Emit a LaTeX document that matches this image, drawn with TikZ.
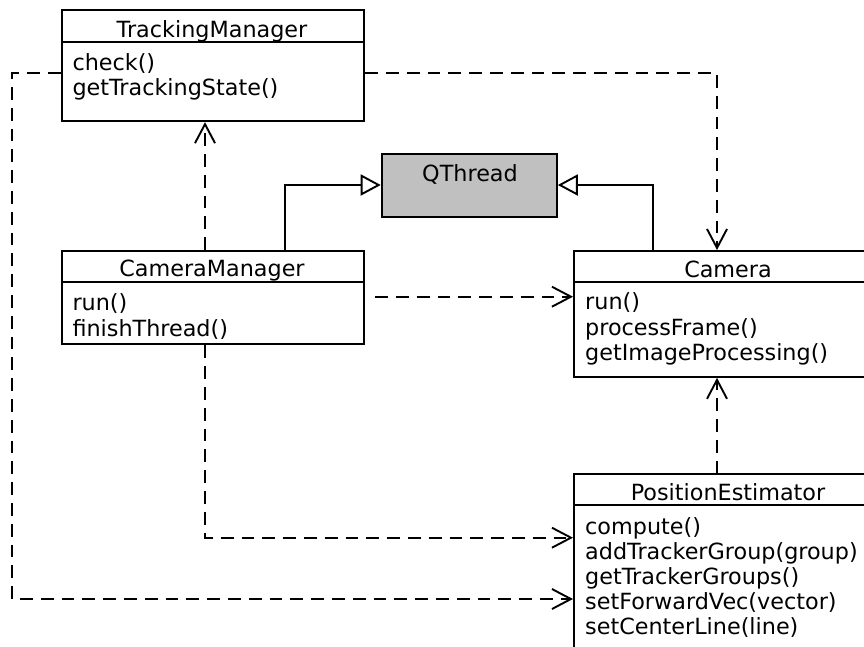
\documentclass[tikz,border=0pt]{standalone}
\usepackage{fontspec}
\setmainfont{DejaVu Sans}
\usetikzlibrary{arrows.meta}

\definecolor{boxgray}{RGB}{192,192,192}

\tikzset{
  classbox/.style={draw=black, line width=2.1pt, rectangle, inner sep=0pt,
    anchor=north west, fill=white},
  headerline/.style={draw=black, line width=2.1pt},
  lbl/.style={inner sep=0pt, anchor=base west, font=\fontsize{22.3pt}{26pt}\selectfont},
  ttl/.style={inner sep=0pt, anchor=base, font=\fontsize{22.3pt}{26pt}\selectfont},
  depend/.style={line width=1.9pt, dash pattern=on 12.8pt off 8pt,
    -{Straight Barb[length=19pt,width=20pt,line width=1.9pt]}},
  inherit/.style={line width=1.9pt,
    -{Triangle[open,length=20pt,width=21pt,line width=1.9pt,fill=white]}}
}

\begin{document}
\begin{tikzpicture}[x=1pt, y=-1pt]
\useasboundingbox (0,0) rectangle (864,646);
\clip (0,0) rectangle (864,646);
\fill[white] (0,0) rectangle (864,646);

% class boxes
\node[classbox, minimum width=302.3pt, minimum height=111pt] (tm) at (60.7,9) {};
\node[classbox, minimum width=302.3pt, minimum height=93.3pt] (cm) at (60.7,250) {};
\node[classbox, fill=boxgray, minimum width=175pt, minimum height=62.4pt] (qt) at (380.7,153.3) {};
\node[classbox, minimum width=310pt, minimum height=125.7pt] (cam) at (573,250) {};
\node[classbox, minimum width=310pt, minimum height=220pt] (pe) at (573,473.3) {};

% compartment separators
\draw[headerline] (60.7,41.7) -- (363,41.7);
\draw[headerline] (60.7,281.7) -- (363,281.7);
\draw[headerline] (573,282) -- (883,282);
\draw[headerline] (573,505) -- (883,505);

% TrackingManager
\node[ttl] (tmname) at (212,37.3) {TrackingManager};
\node[lbl] (tm1) at (72.3,70) {check()};
\node[lbl] (tm2) at (72.3,95.7) {getTrackingState()};

% CameraManager
\node[ttl] (cmname) at (212,276) {CameraManager};
\node[lbl] (cm1) at (72.3,310) {run()};
\node[lbl] (cm2) at (72.3,336) {finishThread()};

% QThread
\node[ttl] (qtname) at (470,181) {QThread};

% Camera
\node[ttl] (camname) at (728,277) {Camera};
\node[lbl] (cam1) at (585,309.3) {run()};
\node[lbl] (cam2) at (585,335) {processFrame()};
\node[lbl] (cam3) at (585,360.5) {getImageProcessing()};

% PositionEstimator
\node[ttl] (pename) at (728,500) {PositionEstimator};
\node[lbl] (pe1) at (585,534) {compute()};
\node[lbl] (pe2) at (585,559.3) {addTrackerGroup(group)};
\node[lbl] (pe3) at (585,584) {getTrackerGroups()};
\node[lbl] (pe4) at (585,609) {setForwardVec(vector)};
\node[lbl] (pe5) at (585,634) {setCenterLine(line)};

% routing points
\coordinate (tmrow) at (0,73.3);
\coordinate (cmrow) at (0,296.7);
\coordinate (perow1) at (0,537.7);
\coordinate (perow2) at (0,599);
\coordinate (camcol) at (717,0);
\coordinate (cmcol) at (205,0);
\coordinate (gencm) at (285,0);
\coordinate (gencam) at (653,0);
\coordinate (genrow) at (0,185);
\coordinate (leftcol) at (12,0);

% inheritance
\draw[inherit] (gencm |- cm.north) -- (gencm |- genrow) -- (qt.west |- genrow);
\draw[inherit] (gencam |- cam.north) -- (gencam |- genrow) -- (qt.east |- genrow);

% dependencies
\draw[depend] (tm.east |- tmrow) -- (camcol |- tmrow) -- (camcol |- cam.north);
\draw[depend] (tm.west |- tmrow) -- (leftcol |- tmrow) -- (leftcol |- perow2) -- (pe.west |- perow2);
\draw[depend] (cmcol |- cm.north) -- (cmcol |- tm.south);
\draw[depend, shorten <=10pt] (cm.east |- cmrow) -- (cam.west |- cmrow);
\draw[depend] (cmcol |- cm.south) -- (cmcol |- perow1) -- (pe.west |- perow1);
\draw[depend] (camcol |- pe.north) -- (camcol |- cam.south);
\end{tikzpicture}
\end{document}
